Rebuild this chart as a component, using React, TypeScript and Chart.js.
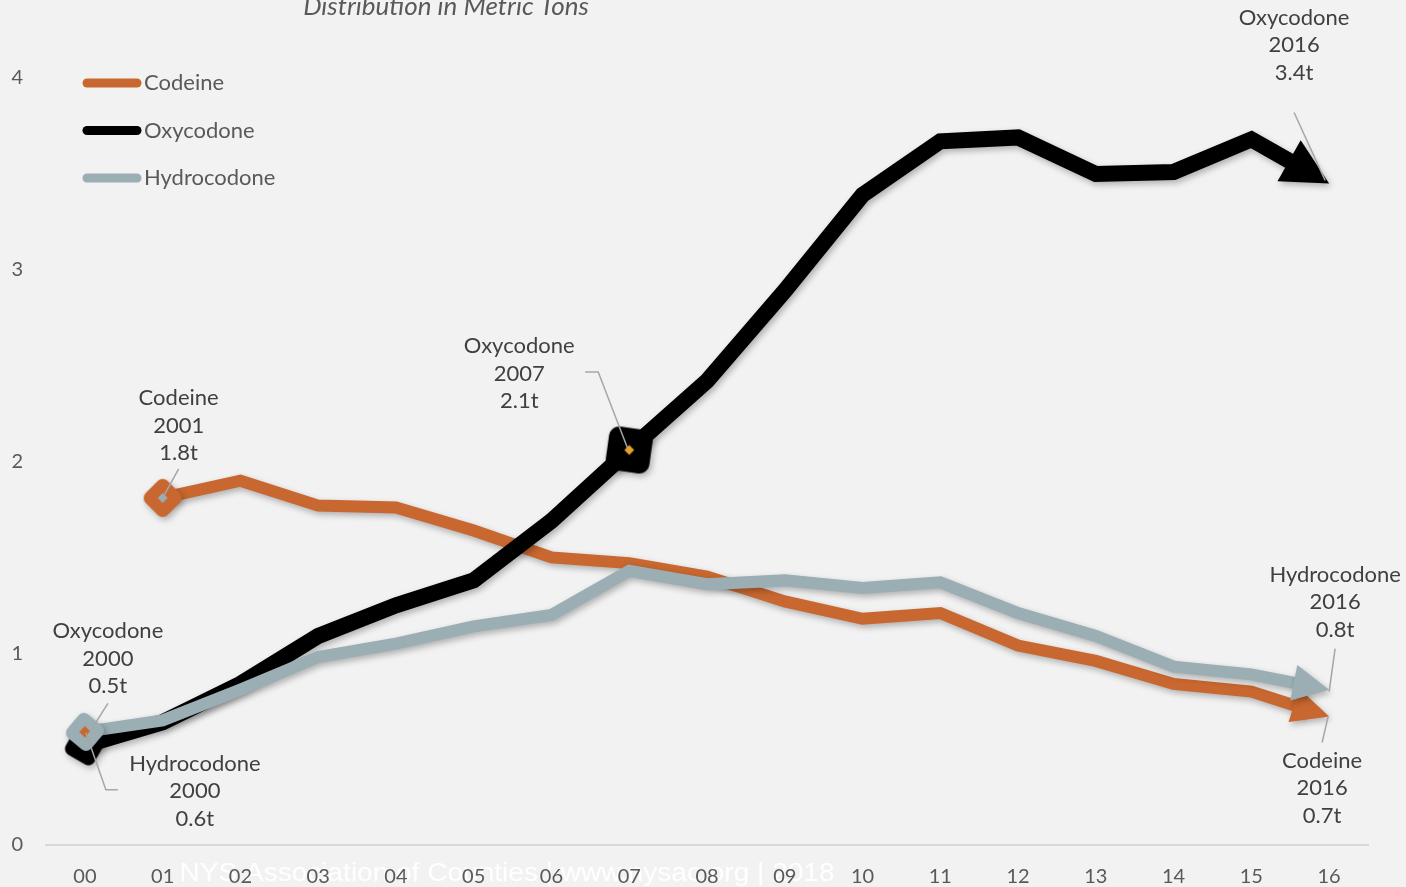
import React, { useEffect, useRef } from 'react';
import { Chart, registerables } from 'chart.js';

Chart.register(...registerables);

// ---------- data ----------
const categories = ['00', '01', '02', '03', '04', '05', '06', '07', '08', '09', '10', '11', '12', '13', '14', '15', '16'];
const seriesNames = ['Codeine', 'Oxycodone', 'Hydrocodone'];
const codeine = [null, 1.81, 1.9, 1.77, 1.76, 1.64, 1.5, 1.47, 1.4, 1.27, 1.18, 1.21, 1.04, 0.96, 0.84, 0.8, 0.67];
const oxycodone = [0.52, 0.64, 0.84, 1.09, 1.25, 1.38, 1.69, 2.06, 2.42, 2.89, 3.39, 3.67, 3.69, 3.5, 3.51, 3.68, 3.45];
const hydrocodone = [0.59, 0.65, 0.81, 0.98, 1.05, 1.14, 1.2, 1.43, 1.36, 1.38, 1.34, 1.37, 1.21, 1.09, 0.93, 0.89, 0.81];
const yTicks = ['0', '1', '2', '3', '4'];
const codeineMarkers = [1];
const oxycodoneMarkers = [0, 7];
const hydrocodoneMarkers = [0];
const titleText = 'Distribution in Metric Tons';
const watermarkText = 'NYS Association of Counties | www.nysac.org | 2018';

// callout labels: dataset index, point index, text lines
const callouts = [
  { ds: 1, idx: 16, lines: ['Oxycodone', '2016', '3.4t'] },
  { ds: 2, idx: 16, lines: ['Hydrocodone', '2016', '0.8t'] },
  { ds: 0, idx: 16, lines: ['Codeine', '2016', '0.7t'] },
  { ds: 1, idx: 7, lines: ['Oxycodone', '2007', '2.1t'] },
  { ds: 0, idx: 1, lines: ['Codeine', '2001', '1.8t'] },
  { ds: 1, idx: 0, lines: ['Oxycodone', '2000', '0.5t'] },
  { ds: 2, idx: 0, lines: ['Hydrocodone', '2000', '0.6t'] },
];

// ---------- styles ----------
const COLORS = ['#c8672f', '#000000', '#9aaeb4'];
const WIDTHS = [12, 16, 12];
const ARROW = [
  { L: 37, W: 35 },
  { L: 46, W: 47 },
  { L: 36, W: 36 },
];
// label placement relative to the anchored point (text center dx, first line dy, leader path)
const CALLOUT_LAYOUT = [
  { dx: -35, dy: -166, leader: [[-35, -71], [-4, -3]] },
  { dx: 6, dy: -115, leader: [[6, -41], [0, 2]] },
  { dx: -7, dy: 44, leader: [[-1, 0], [-7, 26]] },
  { dx: -110, dy: -104, leader: [[-44, -78], [-31, -78], [-1, 0]] },
  { dx: 16, dy: -100, leader: [[16, -29], [0, 0]] },
  { dx: 23, dy: -114, leader: [[23, -42], [1, -7]] },
  { dx: 110, dy: 32, leader: [[33, 58], [21, 58], [1, 1]] },
];
const FONT = 'Lato, "Open Sans", "DejaVu Sans", sans-serif';

function makeMarker(color: string, inner: string, side: number, angle: number, corner: number, innerSize: number) {
  const size = Math.ceil(side * 1.6) + 4;
  const c = document.createElement('canvas');
  c.width = size;
  c.height = size;
  const g = c.getContext('2d')!;
  g.translate(size / 2, size / 2);
  g.rotate((angle * Math.PI) / 180);
  const h = side / 2;
  g.beginPath();
  g.moveTo(-h + corner, -h);
  g.arcTo(h, -h, h, h, corner);
  g.arcTo(h, h, -h, h, corner);
  g.arcTo(-h, h, -h, -h, corner);
  g.arcTo(-h, -h, h, -h, corner);
  g.closePath();
  g.fillStyle = color;
  g.fill();
  g.setTransform(1, 0, 0, 1, size / 2, size / 2);
  g.rotate(Math.PI / 4);
  g.fillStyle = inner;
  g.fillRect(-innerSize / 2, -innerSize / 2, innerSize, innerSize);
  return c;
}

export default function App() {
  const ref = useRef<HTMLCanvasElement | null>(null);

  useEffect(() => {
    const canvas = ref.current;
    if (!canvas) return;

    const markerCodeine = makeMarker(COLORS[0], COLORS[2], 31, 45, 7, 7);
    const markerOxy0 = makeMarker(COLORS[1], COLORS[1], 33, 30, 7, 4);
    const markerOxy7 = makeMarker(COLORS[1], '#f0a020', 44, 8, 10, 7);
    const markerHydro = makeMarker(COLORS[2], COLORS[0], 31, 40, 7, 8);

    const markerFor = (list: number[], pick: (i: number) => HTMLCanvasElement) => ({
      pointRadius: (ctx: any) => (list.includes(ctx.dataIndex) ? 10 : 0),
      pointStyle: (ctx: any) => (list.includes(ctx.dataIndex) ? pick(ctx.dataIndex) : 'circle'),
    });

    const bgPlugin = {
      id: 'bg',
      beforeDraw(chart: any) {
        const { ctx, width, height } = chart;
        ctx.save();
        ctx.fillStyle = '#f2f2f2';
        ctx.fillRect(0, 0, width, height);
        // watermark
        ctx.font = '26px "Liberation Sans", Arial, sans-serif';
        const w = ctx.measureText(watermarkText).width;
        const scale = 655 / w;
        ctx.translate(507, 874);
        ctx.scale(scale, 1);
        ctx.fillStyle = 'rgba(255,255,255,0.95)';
        ctx.textAlign = 'center';
        ctx.textBaseline = 'middle';
        ctx.fillText(watermarkText, 0, 0);
        ctx.restore();
      },
    };

    const arrowPlugin = {
      id: 'arrows',
      beforeDatasetDraw(chart: any, args: any) {
        const { ctx, width, height } = chart;
        const i = args.index;
        const pts = args.meta.data;
        const n = pts.length;
        const tip = pts[n - 1];
        const prev = pts[n - 2];
        let ux = tip.x - prev.x;
        let uy = tip.y - prev.y;
        const len = Math.hypot(ux, uy) || 1;
        ux /= len;
        uy /= len;
        const px = -uy;
        const py = ux;
        const a = ARROW[i];
        const back = a.L * 0.55;
        const wide = 30;
        ctx.save();
        ctx.beginPath();
        ctx.rect(0, 0, width, height);
        ctx.moveTo(tip.x + ux * 20 + px * wide, tip.y + uy * 20 + py * wide);
        ctx.lineTo(tip.x + ux * 20 - px * wide, tip.y + uy * 20 - py * wide);
        ctx.lineTo(tip.x - ux * back - px * wide, tip.y - uy * back - py * wide);
        ctx.lineTo(tip.x - ux * back + px * wide, tip.y - uy * back + py * wide);
        ctx.closePath();
        ctx.clip('evenodd');
        ctx.shadowColor = 'rgba(0,0,0,0.28)';
        ctx.shadowBlur = 6;
        ctx.shadowOffsetX = 2;
        ctx.shadowOffsetY = 3;
      },
      afterDatasetDraw(chart: any, args: any) {
        const { ctx } = chart;
        ctx.restore();
        const i = args.index;
        const pts = args.meta.data;
        const n = pts.length;
        const tip = pts[n - 1];
        const prev = pts[n - 2];
        let ux = tip.x - prev.x;
        let uy = tip.y - prev.y;
        const len = Math.hypot(ux, uy) || 1;
        ux /= len;
        uy /= len;
        const px = -uy;
        const py = ux;
        const a = ARROW[i];
        const bx = tip.x - ux * a.L;
        const by = tip.y - uy * a.L;
        ctx.save();
        ctx.shadowColor = 'rgba(0,0,0,0.28)';
        ctx.shadowBlur = 6;
        ctx.shadowOffsetX = 2;
        ctx.shadowOffsetY = 3;
        ctx.fillStyle = COLORS[i];
        ctx.beginPath();
        ctx.moveTo(tip.x, tip.y);
        ctx.lineTo(bx + (px * a.W) / 2, by + (py * a.W) / 2);
        ctx.lineTo(bx - (px * a.W) / 2, by - (py * a.W) / 2);
        ctx.closePath();
        ctx.fill();
        ctx.restore();
      },
    };

    const overlayPlugin = {
      id: 'overlay',
      afterDraw(chart: any) {
        const { ctx } = chart;
        ctx.save();
        // title
        ctx.font = `italic 26px ${FONT}`;
        ctx.fillStyle = '#595959';
        ctx.textAlign = 'center';
        ctx.textBaseline = 'alphabetic';
        ctx.fillText(titleText, 446, 15);

        // legend
        ctx.textAlign = 'left';
        ctx.textBaseline = 'middle';
        ctx.font = `22px ${FONT}`;
        seriesNames.forEach((name, i) => {
          const y = 83 + i * 47.5;
          ctx.strokeStyle = COLORS[i];
          ctx.lineWidth = 9;
          ctx.lineCap = 'round';
          ctx.beginPath();
          ctx.moveTo(87, y);
          ctx.lineTo(137, y);
          ctx.stroke();
          ctx.fillStyle = '#595959';
          ctx.fillText(name, 144, y);
        });

        // callouts
        callouts.forEach((c, k) => {
          const meta = chart.getDatasetMeta(c.ds);
          const p = meta.data[c.idx];
          const lay = CALLOUT_LAYOUT[k];
          ctx.strokeStyle = '#a6a6a6';
          ctx.lineWidth = 1.5;
          ctx.lineCap = 'butt';
          ctx.beginPath();
          lay.leader.forEach(([dx, dy], j) => {
            if (j === 0) ctx.moveTo(p.x + dx, p.y + dy);
            else ctx.lineTo(p.x + dx, p.y + dy);
          });
          ctx.stroke();
          ctx.fillStyle = '#404040';
          ctx.font = `22px ${FONT}`;
          ctx.textAlign = 'center';
          ctx.textBaseline = 'middle';
          c.lines.forEach((t, j) => {
            ctx.fillText(t, p.x + lay.dx, p.y + lay.dy + j * 27.5);
          });
        });
        ctx.restore();
      },
    };

    const ds = (label: string, data: (number | null)[], i: number, markers: any, order: number) => ({
      label,
      data,
      borderColor: COLORS[i],
      backgroundColor: COLORS[i],
      borderWidth: WIDTHS[i],
      borderJoinStyle: 'miter' as const,
      borderCapStyle: 'butt' as const,
      tension: 0,
      fill: false,
      order,
      ...markers,
    });

    const chart = new Chart(canvas, {
      type: 'line',
      data: {
        labels: categories,
        datasets: [
          ds(seriesNames[0], codeine, 0, markerFor(codeineMarkers, () => markerCodeine), 3),
          ds(seriesNames[1], oxycodone, 1, markerFor(oxycodoneMarkers, (j) => (j === 0 ? markerOxy0 : markerOxy7)), 2),
          ds(seriesNames[2], hydrocodone, 2, markerFor(hydrocodoneMarkers, () => markerHydro), 1),
        ],
      },
      options: {
        animation: false,
        responsive: true,
        maintainAspectRatio: false,
        events: [],
        layout: { padding: { top: 78, right: 38, left: 0, bottom: 0 } },
        plugins: {
          legend: { display: false },
          tooltip: { enabled: false },
          title: { display: false },
        },
        scales: {
          x: {
            offset: true,
            grid: { display: false, drawTicks: false },
            border: { display: true, color: '#d9d9d9', width: 2 },
            ticks: { color: '#595959', font: { family: FONT, size: 20 }, padding: 20, maxRotation: 0, autoSkip: false },
            afterFit: (scale: any) => {
              scale.height = 42;
            },
          },
          y: {
            min: 0,
            max: 4,
            grid: { display: false, drawTicks: false },
            border: { display: false },
            ticks: {
              stepSize: 1,
              color: '#595959',
              font: { family: FONT, size: 20 },
              padding: 23,
              callback: (v: any) => yTicks[Math.round(Number(v))] ?? '',
            },
            afterFit: (scale: any) => {
              scale.width = 46;
            },
          },
        },
      },
      plugins: [bgPlugin, arrowPlugin, overlayPlugin],
    });

    return () => chart.destroy();
  }, []);

  return (
    <div style={{ position: 'absolute', left: 0, top: 0, width: 1406, height: 887, background: '#f2f2f2' }}>
      <canvas ref={ref} />
    </div>
  );
}
